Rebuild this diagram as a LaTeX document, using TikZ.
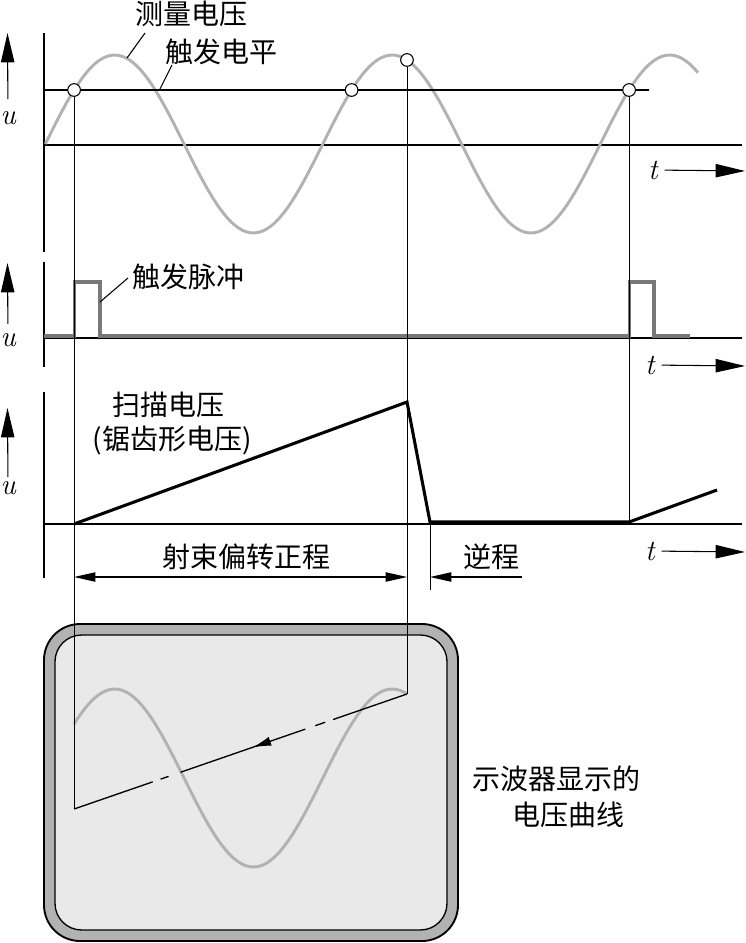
\documentclass[tikz,border=0pt]{standalone}
\usepackage{fontspec}
\newfontfamily\cjk{Noto Sans CJK SC}
\usetikzlibrary{arrows.meta,decorations.markings}
\definecolor{wavegray}{RGB}{178,178,178}
\definecolor{pulsegray}{RGB}{120,120,120}
\definecolor{bandgray}{RGB}{178,178,178}
\definecolor{screengray}{RGB}{233,233,233}
\newcommand{\wavey}[2]{#2-89*sin(1.2973*(#1-45.3))}

\begin{document}
\begin{tikzpicture}[x=0.75pt,y=-0.75pt,
    axis/.style={line width=1.5pt},
    zero/.style={line width=0.9pt},
    proj/.style={line width=0.7pt},
    wave/.style={draw=wavegray,line width=2.2pt},
    pulse/.style={draw=pulsegray,line width=2.4pt},
    ramp/.style={line width=2.3pt,line join=miter},
    lbl/.style={font=\fontsize{21}{27}\selectfont\cjk,inner sep=0pt},
    var/.style={font=\fontsize{22}{26}\selectfont\itshape,inner sep=1pt},
    trig/.style={circle,draw,fill=white,line width=0.8pt,inner sep=0pt,minimum size=9.5pt},
    tip/.style={-{Triangle[length=22pt,width=10pt]},line width=0.8pt},
    dimtip/.style={{Triangle[length=16pt,width=7pt]}-{Triangle[length=16pt,width=7pt]},line width=0.8pt},
    lead/.style={line width=0.8pt},
    sweep/.style={line width=1pt,
      dash pattern=on 58.6pt off 6.3pt on 7.9pt off 7.9pt on 99pt off 9.5pt on 6.3pt off 6.3pt on 100pt,
      postaction={decorate},
      decoration={markings,mark=at position 0.464 with {\arrow{Latex[length=14pt,width=7pt]}}}}
  ]
  \useasboundingbox (0,0) rectangle (746,943);

  % screen of the oscilloscope
  \draw[line width=1.4pt,fill=bandgray,rounded corners=27pt] (44,624) rectangle (458,941);
  \draw[line width=1pt,fill=screengray,rounded corners=20pt] (55,635) rectangle (447,930);

  % axes
  \draw[axis] (44,33) -- (44,252);
  \draw[axis] (44,262) -- (44,367);
  \draw[axis] (44,392) -- (44,578);
  \draw[zero] (44,145) -- (742,145);
  \draw[zero] (44,338) -- (742,338);
  \draw[zero] (44,524) -- (742,524);

  % measured voltage and trigger level
  \draw[wave] plot[domain=45.3:698,samples=160] (\x,{\wavey{\x}{144}});
  \draw[line width=1.6pt] (44,90) -- (649,90);
  \node[trig] (c1) at (74.1,90) {};
  \node[trig] (c2) at (351.6,90) {};
  \node[trig] (c3) at (407,{\wavey{407}{144}}) {};
  \node[trig] (c4) at (629.1,90) {};

  % trigger pulses
  \draw[pulse] (44,336) -- (74.1,336) -- (74.1,282) -- (100,282) -- (100,336)
    -- (629.1,336) -- (629.1,282) -- (654,282) -- (654,336) -- (690,336);

  % sweep voltage
  \coordinate (r0) at (74.1,524);
  \coordinate (r1) at (407,402);
  \coordinate (r2) at (430,522);
  \coordinate (r3) at (629.1,522);
  \coordinate (r4) at (717,490);
  \draw[ramp] (r0) -- (r1) -- (r2) -- (r3) -- (r4);

  % trace on the screen
  \coordinate (s1) at (74.1,809);
  \coordinate (s2) at (407,694);
  \draw[wave] plot[domain=74.1:407,samples=100] (\x,{\wavey{\x}{778}});
  \draw[proj] (c1) -- (s1);
  \draw[proj] (c3) -- (s2);
  \draw[proj] (c4) -- (r3);
  \draw[sweep] (s2) -- (s1);

  % deflection times
  \coordinate (d1) at (74.1,577);
  \coordinate (d2) at (407,577);
  \coordinate (d3) at (430,577);
  \coordinate (d4) at (522,577);
  \coordinate (e3) at (430,590);
  \draw[proj] (r2) -- (e3);
  \draw[dimtip] (d1) -- (d2);
  \draw[tip,-{Triangle[length=16pt,width=7pt]}] (d4) -- (d3);
  \node[lbl] (fw) at (246,557) {射束偏转正程};
  \node[lbl] (bw) at (491,557) {逆程};

  % labels and leaders
  \node[lbl] (mv) at (191,14) {测量电压};
  \node[lbl] (tl) at (221,52) {触发电平};
  \node[lbl] (tp) at (188,277) {触发脉冲};
  \node[lbl] (sv) at (168,405) {扫描电压};
  \node[lbl] (sw) at (172,440) {(锯齿形电压)};
  \coordinate (mvp) at (127,58);
  \coordinate (mvq) at (145,33);
  \coordinate (tlp) at (160,89);
  \coordinate (tlq) at (172,65);
  \coordinate (tpp) at (100,302);
  \coordinate (tpq) at (128,278);
  \draw[lead] (mvp) -- (mvq);
  \draw[lead] (tlp) -- (tlq);
  \draw[lead] (tpp) -- (tpq);

  \node[lbl,anchor=west,align=left] (sc) at (472,797)
    {示波器显示的\\\hspace{30pt}电压曲线};

  % u and t arrows
  \node[var] (u1) at (8,118) {u};
  \node[var] (u2) at (8,340) {u};
  \node[var] (u3) at (8,488) {u};
  \coordinate (u1e) at (7.5,33);
  \coordinate (u2e) at (7.5,263);
  \coordinate (u3e) at (7.5,408);
  \draw[tip,shorten <=8pt] (u1) -- (u1e);
  \draw[tip,shorten <=6pt] (u2) -- (u2e);
  \draw[tip,shorten <=2pt] (u3) -- (u3e);

  \node[var] (t1) at (653,170) {t};
  \node[var] (t2) at (650,365) {t};
  \node[var] (t3) at (650,551) {t};
  \coordinate (t1e) at (745,171);
  \coordinate (t2e) at (745,366);
  \coordinate (t3e) at (745,552);
  \draw[tip,shorten <=4pt] (t1) -- (t1e);
  \draw[tip,shorten <=4pt] (t2) -- (t2e);
  \draw[tip,shorten <=4pt] (t3) -- (t3e);
\end{tikzpicture}
\end{document}
